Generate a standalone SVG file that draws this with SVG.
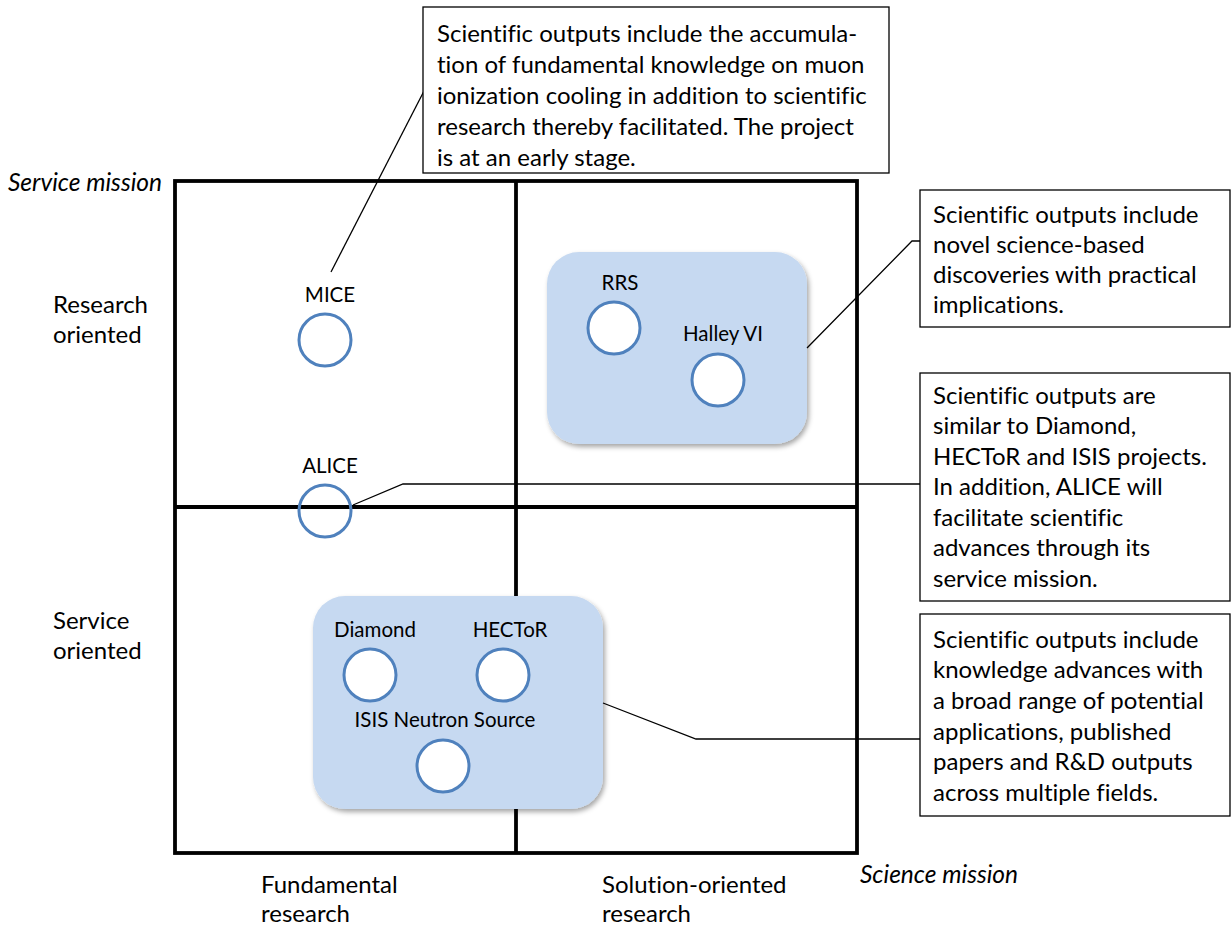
<svg xmlns="http://www.w3.org/2000/svg" width="1232" height="929" viewBox="0 0 1232 929">
<defs>
<filter id="sh" x="-10%" y="-10%" width="125%" height="125%">
<feDropShadow dx="2" dy="3" stdDeviation="2.5" flood-color="#000" flood-opacity="0.35"/>
</filter>
<style>
text{font-family:Lato,"Open Sans","Liberation Sans",sans-serif;fill:#000;font-variant-ligatures:none}
.t{font-size:24px}
.i{font-size:24.5px;font-style:italic}
.l{font-size:20.5px;text-anchor:middle}
.grid{fill:none;stroke:#000;stroke-width:3.8}
.grp{fill:#C6D9F1;filter:url(#sh)}
.c{fill:#fff;stroke:#4F81BD;stroke-width:3}
.box{fill:#fff;stroke:#000;stroke-width:1.3}
.con{fill:none;stroke:#000;stroke-width:1.3}
</style>
</defs>
<rect width="1232" height="929" fill="#fff"/>
<g id="grid">
<rect class="grid" x="175" y="181" width="682" height="672"/>
<line class="grid" x1="516" y1="181" x2="516" y2="853"/>
<line class="grid" x1="175" y1="507" x2="857" y2="507"/>
</g>
<g id="axis-labels">
<text class="i" x="8" y="191">Service mission</text>
<text class="t" x="53" y="313">Research</text>
<text class="t" x="53" y="343">oriented</text>
<text class="t" x="53" y="629">Service</text>
<text class="t" x="53" y="659">oriented</text>
<text class="t" x="261" y="893">Fundamental</text>
<text class="t" x="261" y="922">research</text>
<text class="t" x="602" y="893">Solution-oriented</text>
<text class="t" x="602" y="922">research</text>
<text class="i" x="860" y="883">Science mission</text>
</g>
<g id="group-rrs-halley">
<rect class="grp" x="547" y="252" width="260" height="192" rx="32"/>
</g>
<g id="group-diamond-hector-isis">
<rect class="grp" x="313" y="596" width="290" height="213" rx="32"/>
</g>
<g id="MICE">
<text class="l" x="330" y="302">MICE</text>
<circle class="c" cx="325" cy="340" r="26"/>
</g>
<g id="ALICE">
<text class="l" x="330" y="473">ALICE</text>
<circle class="c" cx="325" cy="511" r="26" style="fill:none"/>
</g>
<g id="RRS">
<text class="l" x="620" y="290">RRS</text>
<circle class="c" cx="614" cy="328" r="26"/>
</g>
<g id="HalleyVI">
<text class="l" x="723" y="341">Halley VI</text>
<circle class="c" cx="718" cy="380" r="26"/>
</g>
<g id="Diamond">
<text class="l" x="375" y="637">Diamond</text>
<circle class="c" cx="370" cy="675" r="26"/>
</g>
<g id="HECToR">
<text class="l" x="510" y="637">HECToR</text>
<circle class="c" cx="503" cy="675" r="26"/>
</g>
<g id="ISIS">
<text class="l" x="445" y="727">ISIS Neutron Source</text>
<circle class="c" cx="443" cy="766" r="26"/>
</g>
<g id="connectors">
<polyline class="con" points="331,272 424,91"/>
<polyline class="con" points="807,348 912,241 920,241"/>
<polyline class="con" points="353,505 403,484 920,484"/>
<polyline class="con" points="603,703 696,739 920,739"/>
</g>
<g id="note-mice">
<rect class="box" x="423" y="7" width="466" height="166"/>
<text class="t" x="437" y="42">Scientific outputs include the accumula-</text>
<text class="t" x="437" y="73">tion of fundamental knowledge on muon</text>
<text class="t" x="437" y="104">ionization cooling in addition to scientific</text>
<text class="t" x="437" y="135">research thereby facilitated. The project</text>
<text class="t" x="437" y="166">is at an early stage.</text>
</g>
<g id="note-rrs">
<rect class="box" x="920" y="190" width="310" height="137"/>
<text class="t" x="933" y="223">Scientific outputs include</text>
<text class="t" x="933" y="253">novel science-based</text>
<text class="t" x="933" y="283">discoveries with practical</text>
<text class="t" x="933" y="313">implications.</text>
</g>
<g id="note-alice">
<rect class="box" x="920" y="373" width="310" height="228"/>
<text class="t" x="933" y="404">Scientific outputs are</text>
<text class="t" x="933" y="434">similar to Diamond,</text>
<text class="t" x="933" y="465">HECToR and ISIS projects.</text>
<text class="t" x="933" y="495">In addition, ALICE will</text>
<text class="t" x="933" y="526">facilitate scientific</text>
<text class="t" x="933" y="556">advances through its</text>
<text class="t" x="933" y="587">service mission.</text>
</g>
<g id="note-isis">
<rect class="box" x="920" y="614" width="310" height="202"/>
<text class="t" x="933" y="648">Scientific outputs include</text>
<text class="t" x="933" y="678">knowledge advances with</text>
<text class="t" x="933" y="709">a broad range of potential</text>
<text class="t" x="933" y="740">applications, published</text>
<text class="t" x="933" y="770">papers and R&amp;D outputs</text>
<text class="t" x="933" y="801">across multiple fields.</text>
</g>
</svg>
